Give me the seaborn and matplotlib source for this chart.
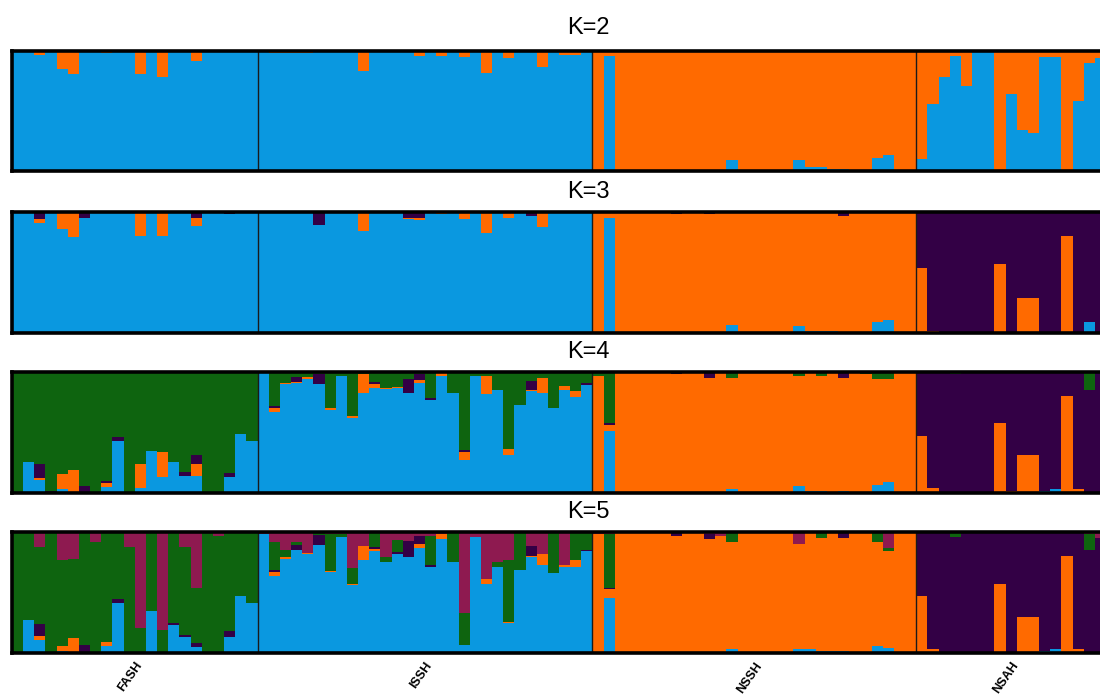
import numpy as np
import pandas as pd
import matplotlib
matplotlib.use("Agg")
import matplotlib.pyplot as plt
import seaborn as sns

# ---------------- data ----------------
populations = ["FASH", "ISSH", "NSSH", "NSAH"]
pop_sizes = [22, 30, 29, 17]
k_values = [2, 3, 4, 5]
cluster_names = ["blue", "orange", "purple", "green", "magenta"]
cluster_colors = {"blue": "#0A98E0", "orange": "#FF6A00", "purple": "#330045",
                  "green": "#0E640F", "magenta": "#8E1A50"}

# K=2
k2_blue = ([1, 1, .97, 1, .85, .81, 1, 1, .98, 1, 1, .81, 1, .78, 1, 1, .915, 1, 1, 1, 1, 1]
           + [1, .985, .985, .985, .985, 1, .99, 1, 1, .83, 1, 1, 1, 1, .96, 1, .96, 1, .95, 1, .82, 1, .94, 1, 1, .87, 1, .97, .97, 1]
           + [0, .96, 0, 0, 0, 0, 0, 0, 0, 0, 0, 0, .09, 0, 0, 0, 0, 0, .09, .03, .03, .02, .02, 0, 0, .11, .13, 0, 0]
           + [.10, .56, .78, .96, .71, .99, .99, .01, .64, .345, .32, .95, .95, 0, .58, .90, .94])
k2_orange = ([0, 0, .03, 0, .15, .19, 0, 0, .02, 0, 0, .19, 0, .22, 0, 0, .085, 0, 0, 0, 0, 0]
             + [0, .015, .015, .015, .015, 0, .01, 0, 0, .17, 0, 0, 0, 0, .04, 0, .04, 0, .05, 0, .18, 0, .06, 0, 0, .13, 0, .03, .03, 0]
             + [1, .04, 1, 1, 1, 1, 1, 1, 1, 1, 1, 1, .91, 1, 1, 1, 1, 1, .91, .97, .97, .98, .98, 1, 1, .89, .87, 1, 1]
             + [.90, .44, .22, .04, .29, .01, .01, .99, .36, .655, .68, .05, .05, 1, .42, .10, .06])

# K=3
k3_blue = ([1, 1, .91, 1, .86, .79, .95, 1, .99, .99, 1, .8, 1, .8, 1, .99, .885, 1, 1, .98, 1, 1]
           + [1, .99, 1, .99, 1, .89, .99, 1, 1, .84, 1, 1, 1, .94, .93, 1, .98, 1, .94, 1, .83, 1, .95, 1, .97, .88, 1, .99, .99, 1]
           + [0, .95, 0, 0, 0, 0, 0, 0, 0, 0, 0, 0, .07, 0, 0, 0, 0, 0, .06, .02, .02, .02, .01, 0, 0, .09, .11, 0, 0]
           + [0, 0, 0, .01, 0, 0, 0, 0, 0, 0, 0, 0, .01, 0, 0, .09, 0])
k3_orange = ([0, 0, .03, 0, .14, .21, 0, 0, 0, 0, 0, .2, 0, .2, 0, 0, .065, 0, 0, 0, 0, 0]
             + [0, .01, 0, 0, 0, 0, .01, 0, 0, .16, 0, 0, 0, .01, .02, 0, .02, 0, .05, 0, .17, 0, .05, 0, 0, .12, 0, .01, .01, 0]
             + [1, .05, 1, 1, 1, 1, 1, .985, 1, 1, .98, 1, .93, 1, .99, 1, 1, 1, .94, .98, .98, .98, .96, 1, .99, .91, .89, 1, 1]
             + [.54, .015, 0, 0, 0, 0, 0, .57, .01, .29, .29, 0, 0, .80, .01, 0, 0])
k3_purple = ([0, 0, .06, 0, 0, 0, .05, 0, .01, .01, 0, 0, 0, 0, 0, .01, .05, 0, 0, .02, 0, 0]
             + [0, 0, 0, .01, 0, .11, 0, 0, 0, 0, 0, 0, 0, .05, .05, 0, 0, 0, .01, 0, 0, 0, 0, 0, .03, 0, 0, 0, 0, 0]
             + [0, 0, 0, 0, 0, 0, 0, .015, 0, 0, .02, 0, 0, 0, .01, 0, 0, 0, 0, 0, 0, 0, .03, 0, .01, 0, 0, 0, 0]
             + [.46, .985, 1, .99, 1, 1, 1, .43, .99, .71, .71, 1, .99, .20, .99, .91, 1])

# K=4
k4_blue = ([0, .26, .11, 0, .035, 0, .01, .01, .05, .43, 0, .04, .35, .13, .26, .14, .14, .01, 0, .13, .49, .43]
           + [1, .67, .9, .91, .94, .9, .69, .97, .62, .83, .87, .86, .87, .83, .91, .77, .97, .83, .27, .97, .82, .85, .31, .73, .84, .83, .7, .85, .79, .89]
           + [0, .51, 0, 0, 0, 0, 0, 0, 0, 0, 0, 0, .035, 0, 0, 0, 0, 0, .055, .015, .015, .01, .015, 0, 0, .07, .09, 0, 0]
           + [0, 0, .005, 0, 0, 0, 0, 0, 0, 0, 0, .015, .035, 0, 0, 0, .01])
k4_orange = ([0, 0, .015, 0, .12, .19, 0, 0, .03, 0, 0, .2, 0, .21, 0, 0, .1, 0, 0, 0, 0, 0]
             + [0, .03, .01, .01, .015, 0, .015, 0, .02, .15, .03, .01, .01, 0, .025, 0, .02, 0, .065, 0, .15, 0, .055, 0, .015, .12, 0, .035, .055, 0]
             + [.97, .05, 1, 1, 1, 1, 1, .98, 1, 1, .95, 1, .915, 1, .99, 1, 1, 1, .915, .985, .955, .99, .935, 1, .98, .87, .85, 1, 1]
             + [.47, .045, 0, 0, 0, 0, 0, .58, .02, .31, .31, 0, 0, .8, .03, 0, 0])
k4_purple = ([0, 0, .115, .02, 0, 0, .05, 0, .02, .03, 0, 0, 0, 0, 0, .035, .075, 0, 0, .035, 0, 0]
             + [0, .015, 0, .035, 0, .085, 0, 0, 0, 0, .015, 0, 0, .11, .05, .015, 0, 0, .02, 0, 0, 0, 0, 0, .07, 0, 0, 0, 0, .02]
             + [0, .015, 0, 0, 0, 0, 0, .02, 0, 0, .05, 0, 0, 0, .01, 0, 0, 0, 0, 0, 0, 0, .05, 0, 0, 0, 0, 0, 0]
             + [.53, .955, .995, .98, 1, 1, 1, .42, .98, .69, .69, .985, .965, .2, .97, .85, .99])
k4_green = ([1, .74, .76, .98, .845, .81, .94, .99, .9, .54, 1, .76, .65, .66, .74, .825, .685, .99, 1, .835, .51, .57]
            + [0, .285, .09, .045, .045, .015, .295, .03, .36, .02, .085, .13, .12, .06, .015, .215, .01, .17, .645, .03, .03, .15, .635, .27, .075, .05, .3, .115, .155, .09]
            + [.03, .425, 0, 0, 0, 0, 0, 0, 0, 0, 0, 0, .05, 0, 0, 0, 0, 0, .03, 0, .03, 0, 0, 0, .02, .06, .06, 0, 0]
            + [0, 0, 0, .02, 0, 0, 0, 0, 0, 0, 0, 0, 0, 0, 0, .15, 0])

# K=5
k5_blue = ([0, .27, .11, 0, .015, 0, 0, 0, .055, .41, 0, .005, .35, 0, .23, .13, .05, 0, 0, .13, .47, .41]
           + [.98, .64, .78, .85, .82, .89, .67, .96, .56, .77, .84, .75, .82, .79, .87, .71, .94, .75, .063, .96, .57, .71, .25, .69, .79, .73, .66, .71, .71, .84]
           + [0, .455, 0, 0, 0, 0, 0, 0, 0, 0, 0, 0, .03, 0, 0, 0, 0, 0, .03, .035, .02, .02, .02, 0, 0, .06, .04, 0, 0]
           + [0, 0, 0, 0, 0, 0, 0, 0, 0, 0, 0, .015, .035, 0, 0, 0, 0])
k5_orange = ([0, 0, .03, 0, .045, .12, 0, 0, .035, 0, 0, .005, 0, .01, 0, 0, 0, 0, 0, 0, 0, 0]
             + [0, .03, .01, 0, .01, 0, .005, 0, .01, .115, .02, 0, 0, 0, .03, 0, .04, 0, .007, 0, .04, 0, .01, 0, .015, .085, 0, .015, .06, 0]
             + [.98, .07, 1, 1, 1, 1, 1, .97, 1, 1, .94, .965, .89, 1, .99, 1, 1, 1, .87, .955, .93, .98, .93, 1, .99, .86, .80, 1, 1]
             + [.47, .035, 0, 0, 0, 0, 0, .57, .01, .3, .3, 0, 0, .8, .03, 0, 0])
k5_purple = ([0, 0, .1, .01, 0, 0, .07, 0, 0, .035, 0, 0, 0, 0, .015, .015, .035, 0, 0, .055, 0, 0]
             + [0, .015, 0, .04, 0, .085, 0, 0, 0, 0, .015, 0, .015, .135, .07, .02, 0, 0, 0, 0, 0, 0, 0, 0, .08, 0, 0, 0, 0, .015]
             + [0, .015, 0, 0, 0, 0, 0, .03, 0, 0, .045, 0, 0, 0, .01, 0, 0, 0, 0, .01, 0, 0, .05, 0, .01, 0, 0, 0, 0]
             + [.53, .965, 1, .96, .995, .995, 1, .43, .99, .7, .7, .975, .965, .2, .97, .85, .95])
k5_green = ([1, .73, .635, .99, .71, .66, .93, .915, .91, .555, .875, .2, .65, .18, .755, .735, .455, 1, .965, .815, .53, .59]
            + [0, .235, .06, .03, 0, .015, .31, .02, .13, 0, .12, .045, .10, 0, 0, .24, 0, .25, .26, 0, 0, .045, .51, .31, 0, 0, .34, 0, .23, .145]
            + [0, .44, 0, 0, 0, 0, 0, 0, 0, 0, 0, 0, .08, 0, 0, 0, 0, 0, 0, 0, .05, 0, 0, 0, 0, .08, .03, 0, 0]
            + [0, 0, 0, .04, 0, 0, 0, 0, 0, 0, 0, .01, 0, 0, 0, .13, 0])
k5_magenta = ([0, 0, .125, 0, .23, .22, 0, .085, 0, 0, .125, .79, 0, .81, 0, .12, .46, 0, .035, 0, 0, 0]
              + [.02, .08, .15, .08, .17, .01, .015, .02, .30, .115, .005, .205, .065, .075, .03, .03, .02, 0, .67, .04, .39, .245, .23, 0, .115, .185, 0, .275, 0, 0]
              + [.02, .02, 0, 0, 0, 0, 0, 0, 0, 0, .015, .035, 0, 0, 0, 0, 0, 0, .10, 0, 0, 0, 0, 0, 0, 0, .13, 0, 0]
              + [0, 0, 0, 0, .005, .005, 0, 0, 0, 0, 0, 0, 0, 0, 0, .02, .05])

q_tables = {
    2: {"blue": k2_blue, "orange": k2_orange},
    3: {"blue": k3_blue, "orange": k3_orange, "purple": k3_purple},
    4: {"blue": k4_blue, "orange": k4_orange, "purple": k4_purple, "green": k4_green},
    5: {"blue": k5_blue, "orange": k5_orange, "purple": k5_purple, "green": k5_green,
        "magenta": k5_magenta},
}

# ---------------- figure ----------------
W, H = 1100, 698
fig = plt.figure(figsize=(W / 100, H / 100), dpi=100)
fig.patch.set_facecolor("white")

n_ind = sum(pop_sizes)
left_px, right_px = 12, 1106
panel_px = [(51, 171), (212, 333), (372, 493), (532, 653)]
title_y = [28, 192, 352, 512]
edges = np.cumsum(pop_sizes)
centers = [e - s / 2 - 0.5 for e, s in zip(edges, pop_sizes)]

for idx, K in enumerate(k_values):
    top, bot = panel_px[idx]
    ax = fig.add_axes([left_px / W, 1 - bot / H, (right_px - left_px) / W, (bot - top) / H])
    table = q_tables[K]
    mat = np.array([table[c] for c in table], dtype=float)
    mat = mat / mat.sum(axis=0, keepdims=True)
    rows = []
    for ci, c in enumerate(table):
        for i in range(n_ind):
            rows.append({"ind": i, "cluster": c, "q": mat[ci, i]})
    df = pd.DataFrame(rows)
    order = [c for c in cluster_names if c in table][::-1]  # first level on top
    sns.histplot(data=df, x="ind", weights="q", hue="cluster", hue_order=order,
                 multiple="stack", discrete=True, shrink=1, alpha=1, linewidth=0,
                 palette=cluster_colors, legend=False, antialiased=False, ax=ax)
    ax.set_xlim(-0.5, n_ind - 0.5)
    ax.set_ylim(0, 1)
    ax.set_xlabel("")
    ax.set_ylabel("")
    ax.set_yticks([])
    for e in edges[:-1]:
        ax.axvline(e - 0.5, color="#1a1a1a", lw=1.0)
    for s in ax.spines.values():
        s.set_linewidth(2.6)
        s.set_color("black")
    if K == 5:
        ax.set_xticks(centers)
        ax.set_xticklabels(populations, rotation=55, ha="right", rotation_mode="anchor",
                           fontsize=9, fontweight="bold", family="Liberation Sans")
        ax.tick_params(axis="x", length=0, pad=5)
    else:
        ax.set_xticks([])
    fig.text(588 / W, 1 - title_y[idx] / H, f"K={K}", ha="center", va="center",
             fontsize=17, family="Liberation Sans")

fig.savefig("out.png", dpi=100)
